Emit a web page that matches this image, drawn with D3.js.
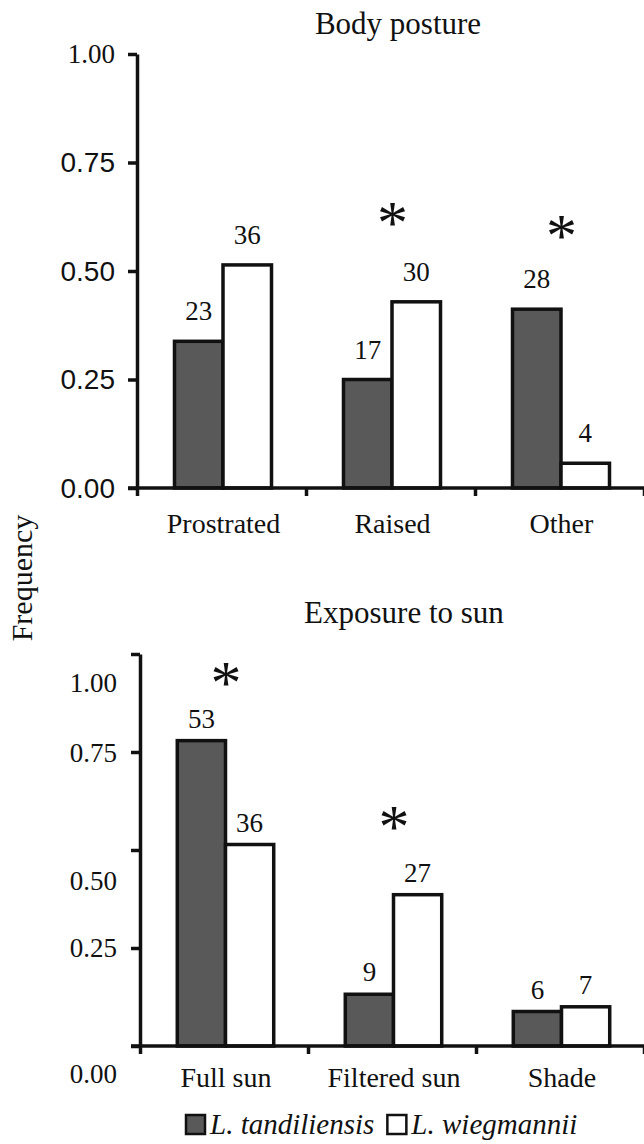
<!DOCTYPE html>
<html>
<head>
<meta charset="utf-8">
<script src="https://cdn.jsdelivr.net/npm/d3@7"></script>
<style>
  body { margin: 0; background: #fff; }
  text { fill: #111; }
</style>
</head>
<body>
<svg id="chart" width="644" height="1144"></svg>
<script>
// series
var seriesNames = ["L. tandiliensis", "L. wiegmannii"];
var seriesFill = ["#595959", "#ffffff"];

// body posture panel
var postureCats = ["Prostrated", "Raised", "Other"];
var postureTand = [0.338, 0.250, 0.412];
var postureWieg = [0.514, 0.429, 0.057];
var postureTandN = [23, 17, 28];
var postureWiegN = [36, 30, 4];
var postureSig = [null, 0.63, 0.60];   // height of the asterisk

// exposure to sun panel
var sunCats = ["Full sun", "Filtered sun", "Shade"];
var sunTand = [0.779, 0.132, 0.088];
var sunWieg = [0.514, 0.386, 0.100];
var sunTandN = [53, 9, 6];
var sunWiegN = [36, 27, 7];
var sunSig = [0.946, 0.579, null];

// y ticks
var yTicks = [0, 0.25, 0.5, 0.75, 1];
var yTickLabels = ["0.00", "0.25", "0.50", "0.75", "1.00"];
// in the lower panel the labels sit off their ticks
var sunLabelPos = [-0.071, 0.25, 0.423, 0.748, 0.926];

var svg = d3.select("#chart");
var serif = "'Liberation Serif', 'Times New Roman', serif";
var sans = "'Liberation Sans', Arial, sans-serif";

function panel(o) {
  var y = d3.scaleLinear().domain([0, 1]).range([o.bottom, o.top]);
  var x0 = d3.scaleBand().domain(o.cats).range([o.left, 644])
    .paddingInner(0.426).paddingOuter(0.213);
  var x1 = d3.scaleBand().domain(seriesNames).range([0, x0.bandwidth()]);
  var xb = d3.scaleLinear().domain([0, o.cats.length]).range([o.left, 644]);

  var g = svg.append("g");

  var rows = o.cats.map(function(c, i) {
    return {cat: c, sig: o.sig[i], vals: [
      {s: seriesNames[0], v: o.a[i], n: o.an[i], fill: seriesFill[0]},
      {s: seriesNames[1], v: o.b[i], n: o.bn[i], fill: seriesFill[1]}
    ]};
  });

  var grp = g.selectAll(".grp").data(rows).enter().append("g")
    .attr("transform", function(d) { return "translate(" + x0(d.cat) + ",0)"; });

  grp.selectAll("rect").data(function(d) { return d.vals; }).enter().append("rect")
    .attr("x", function(d) { return x1(d.s) + 1.5; })
    .attr("width", x1.bandwidth())
    .attr("y", function(d) { return y(d.v); })
    .attr("height", function(d) { return o.bottom - y(d.v); })
    .style("fill", function(d) { return d.fill; })
    .style("stroke", "#111").style("stroke-width", 3.5);

  grp.selectAll(".n").data(function(d) { return d.vals; }).enter().append("text")
    .attr("x", function(d) { return x1(d.s) + x1.bandwidth() / 2 + 1.5; })
    .attr("y", function(d) { return y(d.v) - o.nGap; })
    .attr("text-anchor", "middle")
    .style("font-family", serif).style("font-size", "27px")
    .text(function(d) { return d.n; });

  // asterisks, centred on their point (glyph ink sits high in the em box)
  grp.filter(function(d) { return d.sig != null; }).append("text")
    .attr("class", "star")
    .attr("x", x0.bandwidth() / 2 + 2)
    .attr("y", function(d) { return y(d.sig); })
    .style("font-family", serif).style("font-size", "62px")
    .text("*")
    .each(function() {
      var t = d3.select(this), bb = this.getBBox();
      var cx = +t.attr("x"), cy = +t.attr("y");
      t.attr("x", 2 * cx - (bb.x + bb.width / 2));
      t.attr("y", 2 * cy - (bb.y + bb.height * 0.5) + 7);
    });

  // axes
  var yAxis = g.append("g").attr("transform", "translate(" + o.left + ",0)")
    .call(d3.axisLeft(y).tickValues(yTicks).tickSize(9).tickSizeOuter(0).tickFormat(""));
  var xAxis = g.append("g").attr("transform", "translate(0," + o.bottom + ")")
    .call(d3.axisBottom(xb).tickValues(d3.range(o.cats.length + 1)).tickSize(8).tickSizeOuter(0).tickFormat(""));
  [yAxis, xAxis].forEach(function(a) {
    a.selectAll("path, line").style("stroke", "#111").style("stroke-width", 3.5);
  });
  xAxis.select(".domain").attr("d", "M" + (o.left - 9) + ",0H644");

  g.selectAll(".ylab").data(yTickLabels).enter().append("text")
    .attr("x", o.labelRight)
    .attr("y", function(d, i) { return y(o.labelPos[i]); })
    .attr("dy", "0.35em")
    .attr("text-anchor", "end")
    .style("font-family", function(d, i) { return o.labelFont(i); })
    .style("font-size", function(d, i) { return o.labelFont(i) === sans ? "28px" : "27px"; })
    .text(function(d) { return d; });

  g.selectAll(".cat").data(o.cats).enter().append("text")
    .attr("x", function(d) { return x0(d) + x0.bandwidth() / 2 + 2; })
    .attr("y", o.catBase)
    .attr("text-anchor", "middle")
    .style("font-family", serif).style("font-size", "28px")
    .text(function(d) { return d; });

  g.append("text").attr("x", o.titleX).attr("y", o.titleBase)
    .attr("text-anchor", "middle")
    .style("font-family", serif).style("font-size", "31px")
    .text(o.title);
}

panel({
  title: "Body posture", titleX: 398, titleBase: 34,
  cats: postureCats, a: postureTand, b: postureWieg, an: postureTandN, bn: postureWiegN, sig: postureSig,
  top: 54, bottom: 488, left: 137, nGap: 21, catBase: 533,
  labelRight: 115, labelPos: yTicks,
  labelFont: function(i) { return i === 4 ? serif : sans; }
});

panel({
  title: "Exposure to sun", titleX: 404, titleBase: 623,
  cats: sunCats, a: sunTand, b: sunWieg, an: sunTandN, bn: sunWiegN, sig: sunSig,
  top: 654, bottom: 1046, left: 140, nGap: 13, catBase: 1087,
  labelRight: 117, labelPos: sunLabelPos,
  labelFont: function() { return serif; }
});

svg.append("text")
  .attr("transform", "translate(32,578) rotate(-90)")
  .attr("text-anchor", "middle")
  .style("font-family", serif).style("font-size", "30px")
  .text("Frequency");

// legend
var lx = 186;
seriesNames.forEach(function(name, i) {
  svg.append("rect").attr("x", lx).attr("y", 1115).attr("width", 19).attr("height", 19)
    .style("fill", seriesFill[i]).style("stroke", "#111").style("stroke-width", 2.5);
  var t = svg.append("text").attr("x", lx + 24).attr("y", 1134)
    .style("font-family", serif).style("font-size", "29px").style("font-style", "italic")
    .text(name);
  lx = lx + 24 + t.node().getComputedTextLength() + 13;
});
</script>
</body>
</html>
